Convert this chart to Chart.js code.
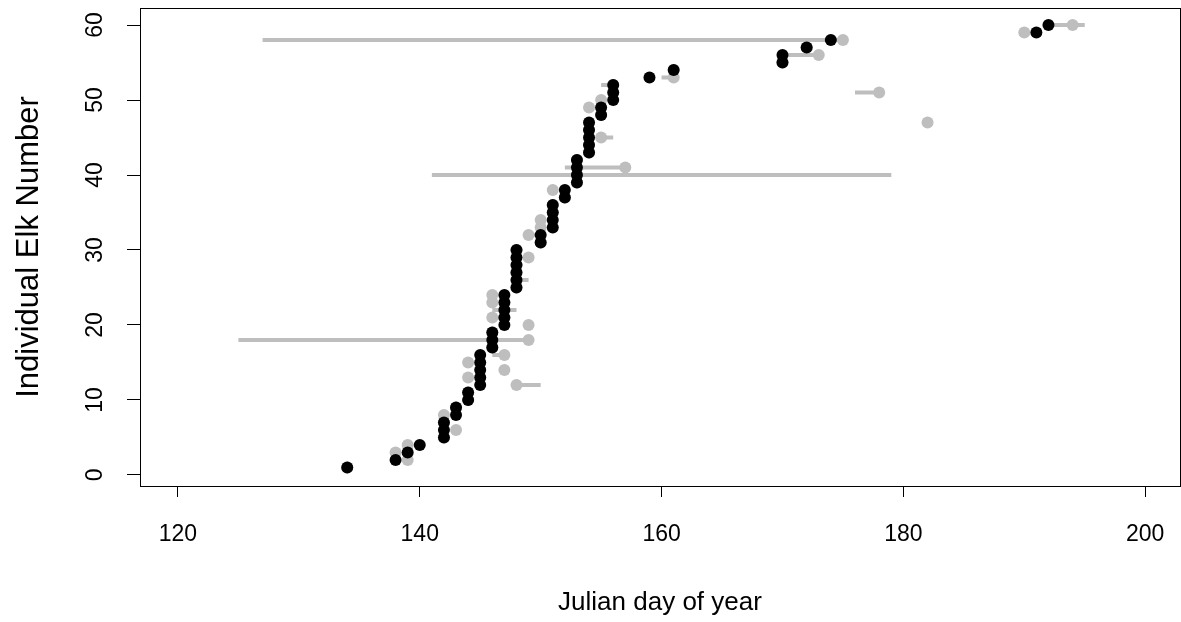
<!DOCTYPE html>
<html>
<head>
<meta charset="utf-8">
<script src="https://cdn.jsdelivr.net/npm/chart.js@4"></script>
<style>
  body { margin: 0; background: #fff; }
  canvas { display: block; }
</style>
</head>
<body>
<canvas id="myChart" width="1181" height="622"></canvas>
<script>
// Elk ids and the two estimates of the day for each one
const elkIds = [1, 2, 3, 4, 5, 6, 7, 8, 9, 10,
  11, 12, 13, 14, 15, 16, 17, 18, 19, 20,
  21, 22, 23, 24, 25, 26, 27, 28, 29, 30,
  31, 32, 33, 34, 35, 36, 37, 38, 39, 40,
  41, 42, 43, 44, 45, 46, 47, 48, 49, 50,
  51, 52, 53, 54, 55, 56, 57, 58, 59, 60];

const blackDay = [134, 138, 139, 140, 142, 142, 142, 143, 143, 144,
  144, 145, 145, 145, 145, 145, 146, 146, 146, 147,
  147, 147, 147, 147, 148, 148, 148, 148, 148, 148,
  150, 150, 151, 151, 151, 151, 152, 152, 153, 153,
  153, 153, 154, 154, 154, 154, 154, 155, 155, 156,
  156, 156, 159, 161, 170, 170, 172, 174, 191, 192];

const grayDay = [134, 139, 138, 139, 142, 143, 142, 142, 143, 144,
  144, 148, 144, 147, 144, 147, 146, 149, 146, 149,
  146, 147, 146, 146, 148, 148, 148, 148, 149, 148,
  150, 149, 150, 150, 151, 151, 152, 151, 153, 153,
  157, 153, 154, 154, 155, 154, 182, 155, 154, 155,
  178, 156, 161, 161, 170, 173, 172, 175, 190, 194];

// gray range bars (null = no bar)
const rangeLo = [null, null, null, null, null, null, null, null, null, null,
  null, 148, null, null, null, 146, null, 125, null, null,
  146, 146, null, null, null, 148, null, null, null, null,
  null, 149, null, null, null, null, null, null, null, 141,
  152, null, null, null, 155, null, null, null, null, null,
  176, 155, 160, null, null, 170, null, 127, null, 192];

const rangeHi = [null, null, null, null, null, null, null, null, null, null,
  null, 150, null, null, null, 147, null, 149, null, null,
  147, 148, null, null, null, 149, null, null, null, null,
  null, 150, null, null, null, null, null, null, null, 179,
  157, null, null, null, 156, null, null, null, null, null,
  178, 156, 161, null, null, 173, null, 175, null, 195];

const xTicks = [120, 140, 160, 180, 200];
const yTicks = [0, 10, 20, 30, 40, 50, 60];

const grayColor = 'rgb(190, 190, 190)';
const fontFamily = "'Liberation Sans', Arial, sans-serif";

const blackPoints = elkIds.map((id, i) => ({ x: blackDay[i], y: id }));
const grayPoints = elkIds.map((id, i) => ({ x: grayDay[i], y: id }));

let rangePoints = [];
elkIds.forEach((id, i) => {
  if (rangeLo[i] === null) return;
  rangePoints.push({ x: rangeLo[i], y: id });
  rangePoints.push({ x: rangeHi[i], y: id });
  rangePoints.push({ x: rangeHi[i], y: null }); // break the line
});

// no extra room for overhanging tick labels
const noPadding = (s) => {
  s.paddingLeft = 0;
  s.paddingRight = 0;
  s.paddingTop = 0;
  s.paddingBottom = 0;
};

// full box round the plot area, like R's box()
const boxPlugin = {
  id: 'box',
  afterDraw(chart) {
    const { ctx, chartArea } = chart;
    ctx.save();
    ctx.strokeStyle = '#000';
    ctx.lineWidth = 1;
    ctx.strokeRect(chartArea.left + 0.5, chartArea.top + 0.5,
      chartArea.right - chartArea.left, chartArea.bottom - chartArea.top);
    ctx.restore();
  }
};

const ctx = document.getElementById('myChart').getContext('2d');
const myChart = new Chart(ctx, {
  type: 'scatter',
  data: {
    datasets: [{
      label: 'estimate',
      data: blackPoints,
      backgroundColor: '#000',
      borderColor: '#000',
      pointRadius: 6,
      pointBorderWidth: 0
    }, {
      label: 'alternative',
      data: grayPoints,
      backgroundColor: grayColor,
      borderColor: grayColor,
      pointRadius: 6,
      pointBorderWidth: 0
    }, {
      label: 'range',
      data: rangePoints,
      showLine: true,
      spanGaps: false,
      borderColor: grayColor,
      borderWidth: 4,
      pointRadius: 0
    }]
  },
  options: {
    responsive: false,
    animation: false,
    layout: { autoPadding: false, padding: { left: 0, top: 8, right: 1, bottom: 0 } },
    plugins: {
      legend: { display: false },
      tooltip: { enabled: false }
    },
    scales: {
      x: {
        type: 'linear',
        min: 116.86,
        max: 202.88,
        afterBuildTicks: (s) => { s.ticks = xTicks.map(v => ({ value: v })); },
        afterFit: (s) => { s.height = 136; noPadding(s); },
        grid: { drawOnChartArea: false, drawTicks: true, tickLength: 11, tickColor: '#000' },
        border: { display: false },
        ticks: {
          color: '#000',
          autoSkip: false,
          maxRotation: 0,
          padding: 24,
          font: { family: fontFamily, size: 23 }
        },
        title: {
          display: true,
          text: 'Julian day of year',
          color: '#000',
          font: { family: fontFamily, size: 26 },
          padding: { top: 4, bottom: 4 }
        }
      },
      y: {
        type: 'linear',
        min: -1.47,
        max: 62.27,
        afterBuildTicks: (s) => { s.ticks = yTicks.map(v => ({ value: v })); },
        afterFit: (s) => { s.width = 140; noPadding(s); },
        grid: { drawOnChartArea: false, drawTicks: true, tickLength: 13, tickColor: '#000' },
        border: { display: false },
        ticks: {
          color: '#000',
          autoSkip: false,
          minRotation: 90,
          maxRotation: 90,
          crossAlign: 'center',
          padding: 19,
          font: { family: fontFamily, size: 23 }
        },
        title: {
          display: true,
          text: 'Individual Elk Number',
          color: '#000',
          font: { family: fontFamily, size: 31 },
          padding: { top: 11, bottom: 0 }
        }
      }
    }
  },
  plugins: [boxPlugin]
});
</script>
</body>
</html>
